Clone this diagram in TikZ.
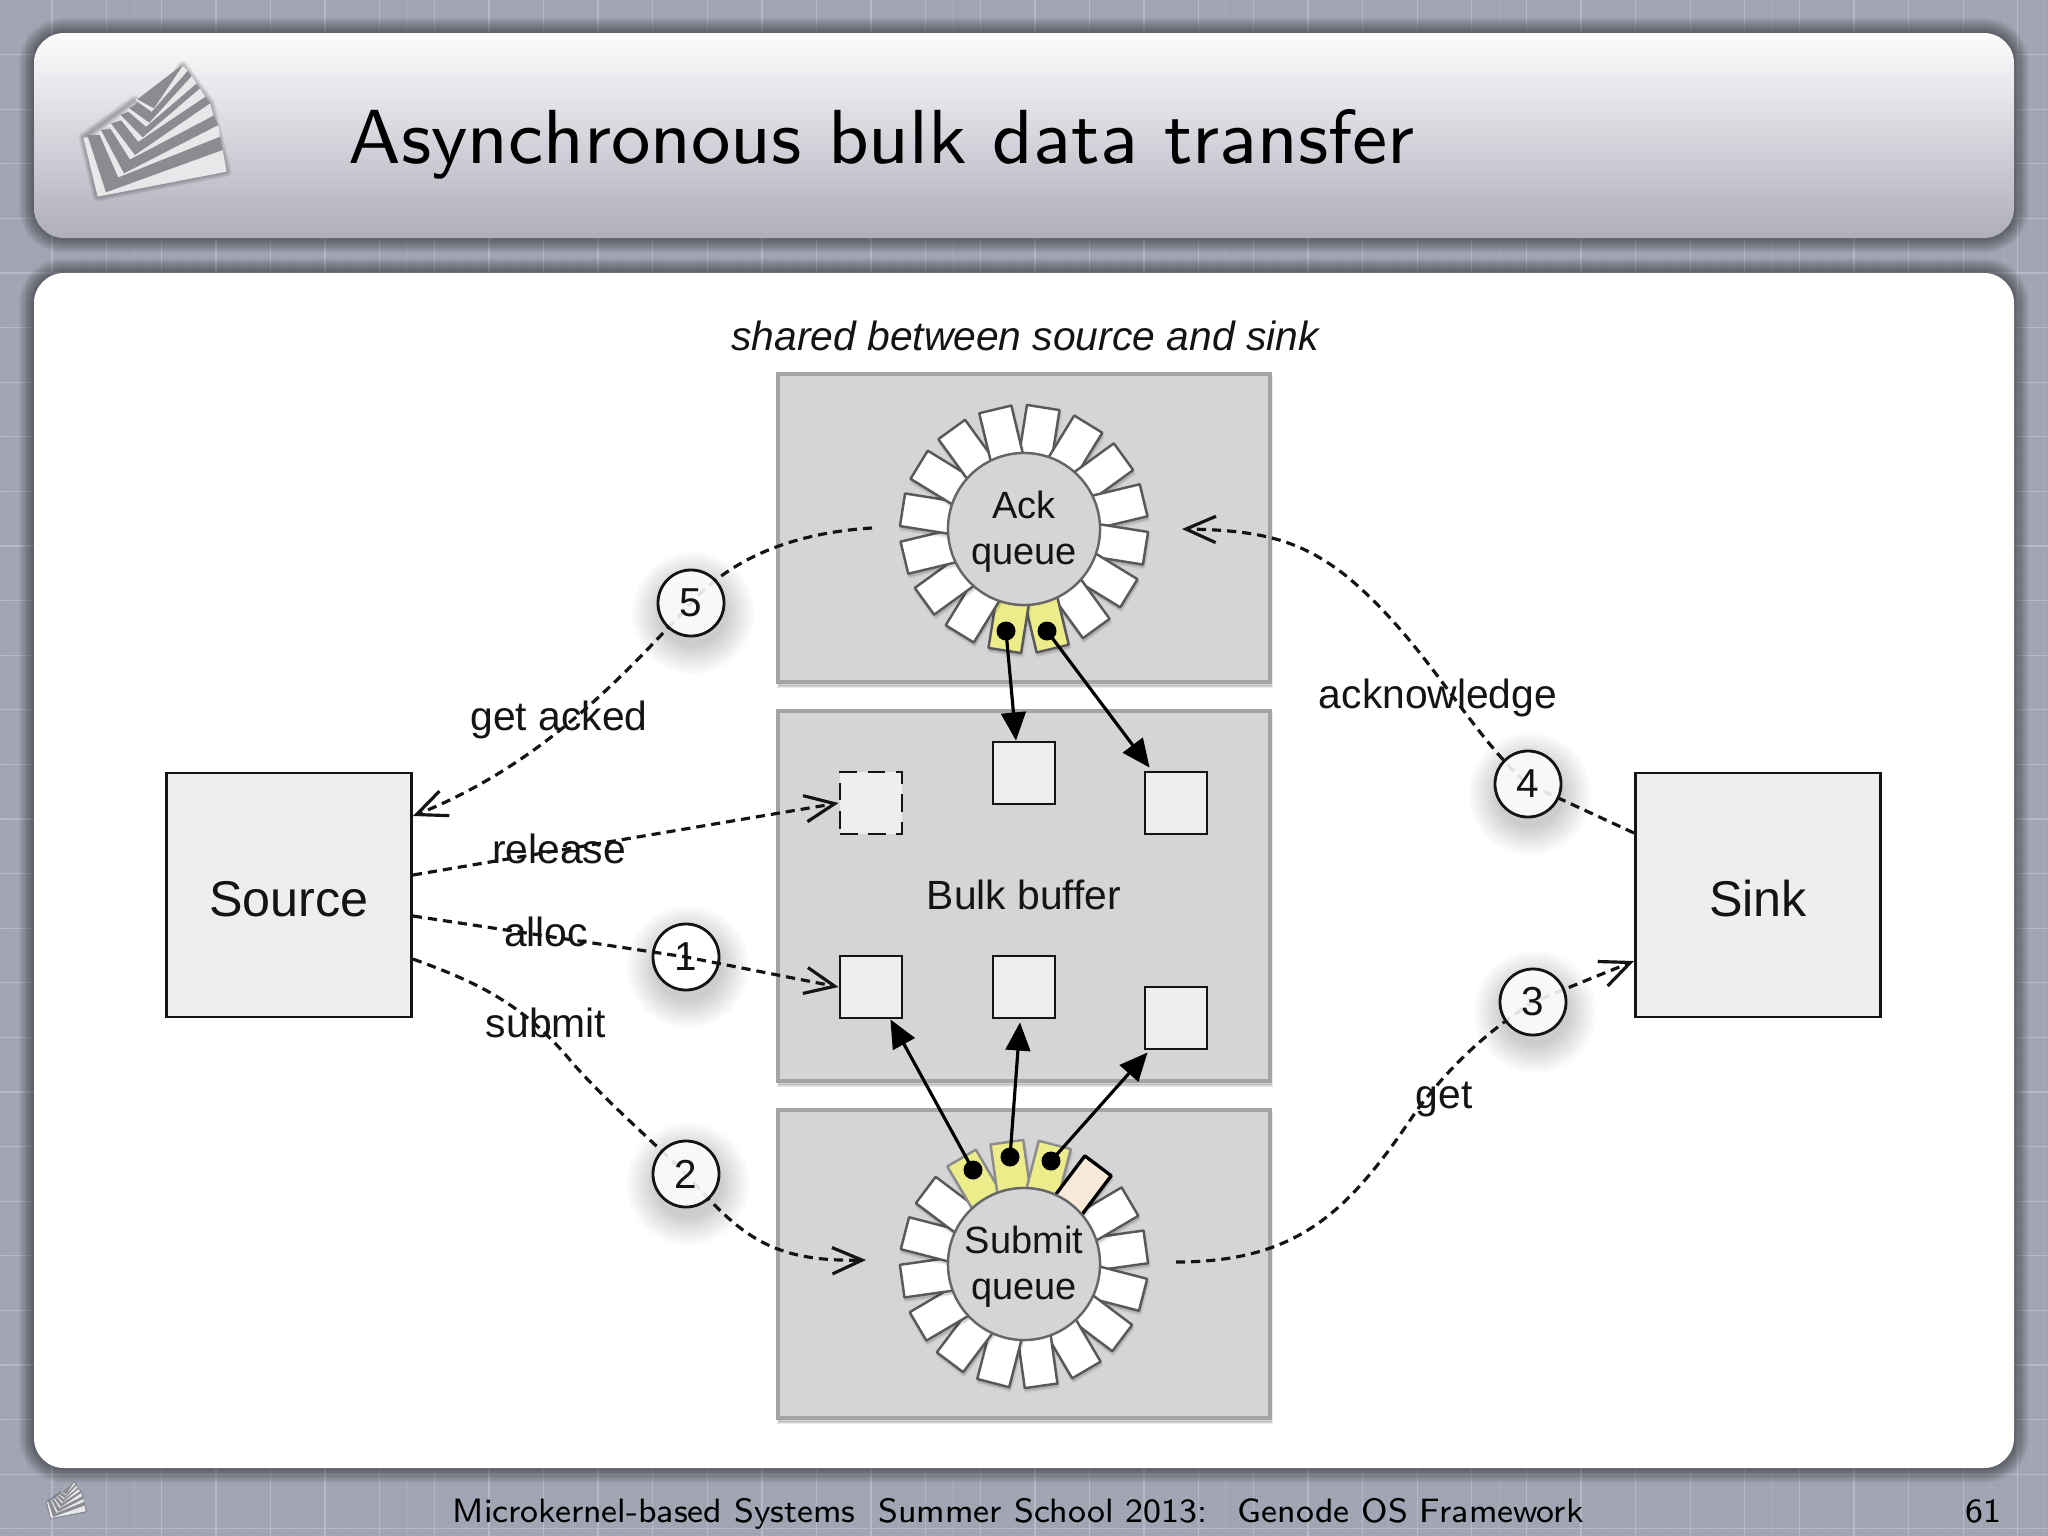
\documentclass[tikz,border=0pt]{standalone}
\usepackage{fontspec}
\newfontfamily\hv{Liberation Sans}
\newfontfamily\lmheadfont[Extension=.otf]{lmsans8-regular}
\newfontfamily\lmtitlefont[Extension=.otf]{lmsans9-regular}
\usetikzlibrary{arrows.meta,calc,shapes.geometric}
\pgfdeclarelayer{under}
\pgfdeclarelayer{lines}
\pgfsetlayers{under,lines,main}
\definecolor{bgc}{HTML}{A1A5B3}
\definecolor{gridc}{HTML}{B7BAC6}
\definecolor{boxc}{HTML}{D5D4D6}
\definecolor{boxedge}{HTML}{A4A4A6}
\definecolor{itemc}{HTML}{EEEEF0}
\definecolor{yelc}{HTML}{EDEC8A}
\definecolor{peachc}{HTML}{F8E9D8}
\definecolor{inkc}{HTML}{141414}
\definecolor{logol}{HTML}{E8E8EA}
\definecolor{logog}{HTML}{8C8C90}
\definecolor{headtop}{HTML}{FDFDFE}
\definecolor{headmid}{HTML}{DADAE1}
\definecolor{headbot}{HTML}{AEAEBC}
\tikzset{
  x=0.01cm,y=-0.01cm,
  region/.style={draw=boxedge,line width=1.1pt,fill=boxc,minimum width=4.91cm,inner sep=0pt},
  party/.style={draw=inkc,line width=0.8pt,fill=itemc,minimum width=2.45cm,minimum height=2.44cm,inner sep=0pt,font=\hv\fontsize{14.3}{16}\selectfont,text=inkc},
  item/.style={draw=inkc,line width=0.8pt,fill=itemc,minimum width=0.62cm,minimum height=0.62cm,inner sep=0pt},
  ghostitem/.style={item,dash pattern=on 5pt off 3pt},
  stepnum/.style={circle,draw=inkc,line width=0.8pt,fill=white,fill opacity=0.88,text opacity=1,minimum size=0.66cm,inner sep=0pt,font=\hv\fontsize{11.5}{13}\selectfont,text=inkc},
  lab/.style={anchor=base,inner sep=0pt,font=\hv\fontsize{11.6}{13}\selectfont,text=inkc},
  hub/.style={circle,draw=black!60,line width=0.7pt,fill=boxc,minimum size=1.52cm,inner sep=0pt,align=center,font=\hv\fontsize{10.8}{13}\selectfont,text=inkc},
  flow/.style={draw=inkc,line width=0.9pt,dash pattern=on 2.6pt off 1.7pt,-{Straight Barb[length=8.5pt,width=7.5pt,line width=0.9pt]}},
  ptr/.style={draw=black,line width=0.9pt,-{Triangle[length=8pt,width=7pt]}},
  dotm/.style={circle,fill=black,minimum size=0.19cm,inner sep=0pt},
}
% one ring slot: centre x, centre y, angle, fill, line colour, line width
\newcommand{\slot}[6]{%
  \pgfmathsetmacro{\ux}{sin(#3)}\pgfmathsetmacro{\uy}{-cos(#3)}%
  \pgfmathsetmacro{\tx}{cos(#3)}\pgfmathsetmacro{\ty}{sin(#3)}%
  \foreach \sd/\sa in {4/.04,2/.06}{%
    \fill[black,opacity=\sa,line join=round,draw=black,line width=\sd*0.2845pt]
      ({#1+1+70*\ux-16.5*\tx},{#2+3+70*\uy-16.5*\ty})--({#1+1+123*\ux-16.5*\tx},{#2+3+123*\uy-16.5*\ty})--
      ({#1+1+123*\ux+16.5*\tx},{#2+3+123*\uy+16.5*\ty})--({#1+1+70*\ux+16.5*\tx},{#2+3+70*\uy+16.5*\ty})--cycle;}%
  \filldraw[fill=#4,draw=#5,line width=#6,line join=round]
      ({#1+70*\ux-16.5*\tx},{#2+70*\uy-16.5*\ty})--({#1+123*\ux-16.5*\tx},{#2+123*\uy-16.5*\ty})--
      ({#1+123*\ux+16.5*\tx},{#2+123*\uy+16.5*\ty})--({#1+70*\ux+16.5*\tx},{#2+70*\uy+16.5*\ty})--cycle;%
}
% soft shadow of a rounded panel
\newcommand{\panelhalo}[4]{%
  \foreach \w in {2,4,...,30}{%
    \draw[black,opacity=0.03,line width=\w*0.2845pt,rounded corners=0.3cm]
       (#1,#2) rectangle (#3,#4);}%
}
\newcommand{\disc}[2]{%
  \foreach \rr in {34,37,...,61}{\fill[black,opacity=0.018] ($(#1,#2)+(2,10)$) circle[radius=\rr];}%
}
\newcommand{\boxshade}[4]{%
  \foreach \w in {1,3,5}{\draw[black,opacity=0.09,line width=\w*0.2845pt] ($(#1,#2)+(1,3)$) rectangle ($(#3,#4)+(1,3)$);}%
}
\newcommand{\logoart}[3]{%
  \begin{scope}[shift={(#1,#2)},scale=#3]
    \foreach \w in {2,5,8,11,14}{\draw[black,opacity=0.06,line width=\w*#3*0.6pt,line join=round]
      (250,412)--(293,590)--(680,515)--(630,310)--(548,197)--(455,335)--(405,300)--cycle;}
    \fill[logol] (250,412)--(293,590)--(680,515)--(668,450)--cycle;
    \fill[logog] (262,405)--(318,577)--(668,450)--(660,410)--cycle;
    \fill[logol] (295,395)--(355,532)--(660,410)--(655,375)--cycle;
    \fill[logog] (303,390)--(372,520)--(655,375)--(640,345)--cycle;
    \fill[logol] (325,375)--(390,478)--(640,347)--(630,310)--cycle;
    \fill[logog] (333,370)--(405,465)--(630,310)--(615,290)--cycle;
    \fill[logol] (355,350)--(415,425)--(616,290)--(600,265)--cycle;
    \fill[logog] (362,345)--(428,412)--(600,265)--(588,250)--cycle;
    \fill[logol] (380,330)--(438,380)--(590,250)--(575,228)--cycle;
    \fill[logog] (388,325)--(448,368)--(575,228)--(563,212)--cycle;
    \fill[logol] (405,300)--(455,335)--(563,212)--(548,197)--cycle;
    \fill[logog] (412,298)--(462,325)--(548,197)--(540,200)--cycle;
  \end{scope}%
}
\begin{document}
\begin{tikzpicture}
\useasboundingbox (0,0) rectangle (2048,1536);
\begin{pgfonlayer}{under}
\fill[bgc] (0,0) rectangle (2048,1536);
% grid
\foreach \k in {0,...,150}{\draw[white,opacity=0.05,line width=0.3pt] ({\k*13.65-2.5},0)--({\k*13.65-2.5},1536);}
\foreach \k in {0,...,113}{\draw[white,opacity=0.05,line width=0.3pt] (0,{\k*13.65})--(2048,{\k*13.65});}
\foreach \k in {1,...,38}{\draw[gridc,line width=0.35pt] ({\k*54.6-2.5},0)--({\k*54.6-2.5},1536);}
\foreach \k in {1,...,28}{\draw[gridc,line width=0.35pt] (0,{\k*54.6})--(2048,{\k*54.6});}
% panels
\panelhalo{34}{33}{2014}{238}
\panelhalo{34}{273}{2014}{1468}
\shade[rounded corners=0.3cm,top color=headtop,middle color=headmid,bottom color=headbot] (34,33) rectangle (2014,238);
\fill[white,rounded corners=0.3cm] (34,273) rectangle (2014,1468);
\logoart{0}{0}{0.3333}
\logoart{24.5}{1465}{0.09}
% regions
\boxshade{778}{375}{1269}{682}
\boxshade{778}{712}{1269}{1081}
\boxshade{778}{1110}{1269}{1418}
\node[region,minimum height=3.07cm] (ackbox) at (1024,528) {};
\node[region,minimum height=3.69cm] (bulkbox) at (1024,896) {};
\node[region,minimum height=3.08cm] (subbox) at (1024,1264) {};
\node[party] (source) at (289,895) {\raisebox{-0.04cm}[\height][\depth]{Source}};
\node[party] (sink) at (1758,895) {\raisebox{-0.04cm}[\height][\depth]{Sink}};
% buffers
\node[ghostitem] (b1) at (871,803) {};
\node[item] (b2) at (1024,773) {};
\node[item] (b3) at (1176,803) {};
\node[item] (b4) at (871,987) {};
\node[item] (b5) at (1024,987) {};
\node[item] (b6) at (1176,1018) {};
% rings
\foreach \k in {0,...,15}{
  \pgfmathsetmacro{\ang}{9+22.5*\k}
  \ifnum\k=7 \slot{1024}{529}{\ang}{yelc}{black!65}{0.7pt}
  \else\ifnum\k=8 \slot{1024}{529}{\ang}{yelc}{black!65}{0.7pt}
  \else \slot{1024}{529}{\ang}{white}{black!65}{0.7pt}\fi\fi
}
\node[hub] (ackq) at (1024,529) {\raisebox{-0.03cm}[\height][\depth]{Ack}\\\raisebox{-0.03cm}[\height][\depth]{queue}};
\foreach \k in {4,...,15,0,1,3}{
  \pgfmathsetmacro{\ang}{-8+22.5*\k}
  \ifnum\k=15 \slot{1024}{1264}{\ang}{yelc}{black!45}{0.7pt}
  \else\ifnum\k=0 \slot{1024}{1264}{\ang}{yelc}{black!45}{0.7pt}
  \else\ifnum\k=1 \slot{1024}{1264}{\ang}{yelc}{black!45}{0.7pt}
  \else \slot{1024}{1264}{\ang}{white}{black!65}{0.7pt}\fi\fi\fi
}
\slot{1024}{1264}{37}{peachc}{black}{0.95pt}
\node[hub] (subq) at (1024,1264) {\raisebox{-0.03cm}[\height][\depth]{Submit}\\\raisebox{-0.03cm}[\height][\depth]{queue}};
% pointers
\node[dotm] (d1) at (1006,631) {};
\node[dotm] (d2) at (1047,631) {};
\node[dotm] (d3) at (973,1170) {};
\node[dotm] (d4) at (1010,1157) {};
\node[dotm] (d5) at (1051,1161) {};
\draw[ptr] (d1.center) -- (b2.north -| 1016,0);
\draw[ptr] (d2.center) -- ($(b3.north west)+(6,-3)$);
\draw[ptr] (d3.center) -- ($(b4.south east)+(-13,0)$);
\draw[ptr] (d4.center) -- ($(b5.south)+(-4,3)$);
\draw[ptr] (d5.center) -- ($(b6.south west)+(4,2)$);
% step markers' shadows
\disc{691}{603}\disc{1528}{784}\disc{1533}{1002}\disc{686}{957}\disc{686}{1174}
\end{pgfonlayer}
\coordinate (ackL) at (872,528);
\coordinate (ackR) at (1182,529);
\coordinate (subL) at (866,1260);
\coordinate (subR) at (1176,1262);
% texts
\node[anchor=base west,inner sep=0pt,font=\lmtitlefont\fontsize{21.8}{26}\selectfont,text=black] (title) at (348,163) {Asynchronous bulk data transfer};
\node[anchor=base west,inner sep=0pt,font=\lmheadfont\fontsize{9.6}{12}\selectfont,text=black] (foot) at (452,1522) {Microkernel-based Systems\hspace{0.68em}Summer School 2013:\hspace{0.9em}Genode OS Framework};
\node[anchor=base east,inner sep=0pt,font=\lmheadfont\fontsize{9.6}{12}\selectfont,text=black] (pageno) at (2002,1522) {61};
\node[lab] (bulklab) at (1024,909) {Bulk buffer};
\node[lab,font=\hv\itshape\fontsize{11.6}{13}\selectfont] (sharedlab) at (1025,350) {shared between source and sink};
% step markers
\node[stepnum] (n5) at (691,603) {5};
\node[stepnum] (n4) at (1528,784) {4};
\node[stepnum] (n3) at (1533,1002) {3};
\node[stepnum] (n2) at (686,1174) {2};
\node[stepnum,fill opacity=1] (n1) at (686,957) {1};
% flows
\begin{pgfonlayer}{lines}
\draw[flow] (ackL) .. controls (790,533) and (730,560) .. (n5.center) .. controls (620,680) and (540,765) .. (source.east |- 0,816);
\draw[flow] (source.east |- 0,875) -- (b1.west);
\draw[flow] (source.east |- 0,959) .. controls (470,980) and (520,1000) .. (570,1060) .. controls (600,1095) and (640,1130) .. (n2.center) .. controls (740,1235) and (770,1262) .. (subL);
\draw[flow] (subR) .. controls (1300,1262) and (1350,1210) .. (1417,1110) .. controls (1455,1060) and (1490,1030) .. (n3.center) -- (sink.west |- 0,961);
\draw[flow] (sink.west |- 0,833) -- (n4.center) .. controls (1470,735) and (1425,640) .. (1345,575) .. controls (1300,540) and (1260,530) .. (ackR);
\end{pgfonlayer}
\draw[flow] (source.east |- 0,916) -- (n1.center) -- (b4.west);
% labels
\node[lab] (l1) at (559,730) {get acked};
\node[lab] (l2) at (559,863) {release};
\node[lab] (l3) at (546,946) {alloc};
\node[lab] (l4) at (546,1037) {submit};
\node[lab] (l5) at (1438,708) {acknowledge};
\node[lab] (l6) at (1444,1108) {get};
\end{tikzpicture}
\end{document}
